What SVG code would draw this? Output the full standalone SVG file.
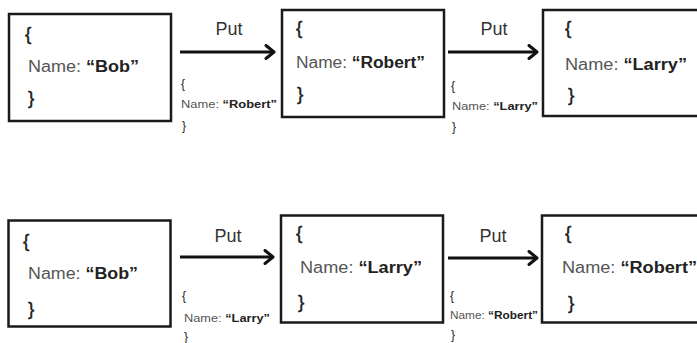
<svg xmlns="http://www.w3.org/2000/svg" width="697" height="343" viewBox="0 0 697 343">
<style>
.box{fill:#fff;stroke:#1a1a1a;stroke-width:2.5}
.t{font-family:"Liberation Sans",Arial,sans-serif}
.br{font-size:19px;fill:#1a1a1a;stroke:#1a1a1a;stroke-width:0.4}
.nm{font-size:16px;fill:#555}
.v{font-weight:bold;fill:#222}
.sm{font-size:11px;fill:#555}
.smb{font-size:11px;font-weight:bold;fill:#222}
.smbr{font-size:12px;fill:#222}
.put{font-size:18px;fill:#333}
.arr{stroke:#111;stroke-width:3;fill:none}
</style>
<defs>
<marker id="ah" markerUnits="userSpaceOnUse" markerWidth="14" markerHeight="16" refX="11" refY="8" orient="auto">
<path d="M3,1.5 L11,8 L3,14.5" fill="none" stroke="#111" stroke-width="3" stroke-linecap="round" stroke-linejoin="round"/>
</marker>
</defs>
<rect width="697" height="343" fill="#fff"/>

<g id="node-top-1">
<rect class="box" x="9" y="14" width="162" height="107"/>
<text class="t br" x="25" y="40">{</text>
<text class="t nm" x="28" y="72" textLength="111" lengthAdjust="spacingAndGlyphs">Name: <tspan class="v">“Bob”</tspan></text>
<text class="t br" x="28" y="104">}</text>
</g>
<g id="node-top-2">
<rect class="box" x="282" y="10" width="162" height="107"/>
<text class="t br" x="296" y="34">{</text>
<text class="t nm" x="296" y="68" textLength="129" lengthAdjust="spacingAndGlyphs">Name: <tspan class="v">“Robert”</tspan></text>
<text class="t br" x="297" y="100">}</text>
</g>
<g id="node-top-3">
<rect class="box" x="543" y="10" width="200" height="106"/>
<text class="t br" x="565" y="34">{</text>
<text class="t nm" x="565" y="70" textLength="122" lengthAdjust="spacingAndGlyphs">Name: <tspan class="v">“Larry”</tspan></text>
<text class="t br" x="568" y="101">}</text>
</g>

<g id="node-bot-1">
<rect class="box" x="8.5" y="220.5" width="162" height="106"/>
<text class="t br" x="23" y="247">{</text>
<text class="t nm" x="28" y="279" textLength="110" lengthAdjust="spacingAndGlyphs">Name: <tspan class="v">“Bob”</tspan></text>
<text class="t br" x="28" y="315">}</text>
</g>
<g id="node-bot-2">
<rect class="box" x="281" y="215.5" width="162" height="107"/>
<text class="t br" x="296" y="239">{</text>
<text class="t nm" x="300" y="273" textLength="122" lengthAdjust="spacingAndGlyphs">Name: <tspan class="v">“Larry”</tspan></text>
<text class="t br" x="298" y="308">}</text>
</g>
<g id="node-bot-3">
<rect class="box" x="542" y="215.5" width="200" height="107"/>
<text class="t br" x="565" y="239">{</text>
<text class="t nm" x="562" y="273" textLength="135" lengthAdjust="spacingAndGlyphs">Name: <tspan class="v">“Robert”</tspan></text>
<text class="t br" x="568" y="309">}</text>
</g>

<g id="connectors">
<path class="arr" d="M180,52 L274,52" marker-end="url(#ah)"/>
<text class="t put" x="229" y="35" text-anchor="middle">Put</text>
<text class="t smbr" x="181" y="88">{</text>
<text class="t sm" x="181" y="108" textLength="96" lengthAdjust="spacingAndGlyphs">Name: <tspan class="smb">“Robert”</tspan></text>
<text class="t smbr" x="182" y="130">}</text>

<path class="arr" d="M448,52 L537,52" marker-end="url(#ah)"/>
<text class="t put" x="494" y="35" text-anchor="middle">Put</text>
<text class="t smbr" x="451" y="90">{</text>
<text class="t sm" x="452" y="110" textLength="86" lengthAdjust="spacingAndGlyphs">Name: <tspan class="smb">“Larry”</tspan></text>
<text class="t smbr" x="452" y="131">}</text>

<path class="arr" d="M180,257 L273,257" marker-end="url(#ah)"/>
<text class="t put" x="228" y="242" text-anchor="middle">Put</text>
<text class="t smbr" x="182" y="300">{</text>
<text class="t sm" x="184" y="322" textLength="86" lengthAdjust="spacingAndGlyphs">Name: <tspan class="smb">“Larry”</tspan></text>
<text class="t smbr" x="184" y="341">}</text>

<path class="arr" d="M448,258 L537,258" marker-end="url(#ah)"/>
<text class="t put" x="493" y="242" text-anchor="middle">Put</text>
<text class="t smbr" x="450" y="300">{</text>
<text class="t sm" x="450" y="319" textLength="88" lengthAdjust="spacingAndGlyphs">Name: <tspan class="smb">“Robert”</tspan></text>
<text class="t smbr" x="451" y="339">}</text>
</g>
</svg>
